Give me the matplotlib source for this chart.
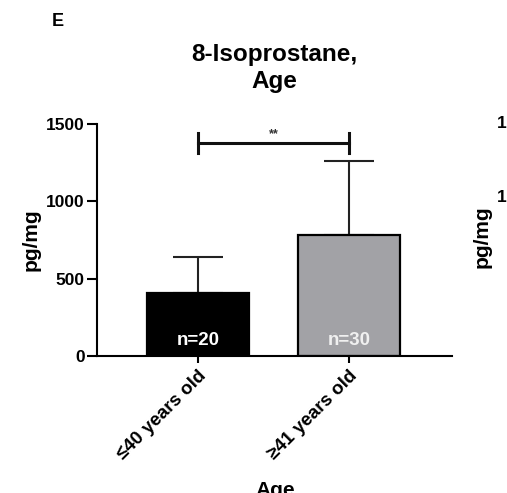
import matplotlib
matplotlib.use('Agg')
import matplotlib.pyplot as plt
import numpy as np

plt.rcParams['font.family'] = ['Liberation Sans', 'DejaVu Sans']
plt.rcParams['font.weight'] = 'bold'

# data
groups = ['\u226440 years old', '\u226541 years old']
means = [405, 782]
sd_up = [235, 478]
n_labels = ['n=20', 'n=30']
colors = ['#000000', '#a2a2a6']
sig_y = 1377
sig_text = '**'

fig = plt.figure(figsize=(5.07, 4.93), dpi=100)
ax = fig.add_axes([97/507., 1-356/493., 355/507., 232/493.])

x = np.arange(len(groups))
ax.bar(x, means, width=0.675, color=colors, edgecolor='black', linewidth=1.6, zorder=2)
ax.errorbar(x, means, yerr=[np.zeros(len(means)), sd_up], fmt='none',
            ecolor='#222222', elinewidth=1.5, capsize=18, capthick=1.5, zorder=1)

for xi, lab, c in zip(x, n_labels, ['white', '#f0f0f0']):
    ax.text(xi, 103, lab, ha='center', va='center', color=c,
            fontsize=13.5, fontweight='bold', zorder=3)

# significance bracket
ax.plot([x[0], x[1]], [sig_y, sig_y], color='#111111', lw=2.2, clip_on=False)
ax.plot([x[0], x[0]], [sig_y-65, sig_y+65], color='#111111', lw=2.2, clip_on=False)
ax.plot([x[1], x[1]], [sig_y-65, sig_y+65], color='#111111', lw=2.2, clip_on=False)
ax.text((x[0]+x[1])/2., sig_y+20, sig_text, ha='center', va='bottom',
        fontsize=9, color='#333333')

ax.set_xlim(-0.669, 1.682)
ax.set_ylim(0, 1500)
ax.set_yticks([0, 500, 1000, 1500])
ax.set_xticks(x)
ax.set_xticklabels(groups, rotation=45, ha='right', va='top',
                   rotation_mode='anchor', fontsize=13.5, fontweight='bold')
ax.tick_params(axis='y', labelsize=12.5, width=1.5, length=7, pad=2)
ax.tick_params(axis='x', width=1.5, length=5, pad=3)
for lab in ax.get_yticklabels():
    lab.set_fontweight('bold')
for s in ['top', 'right']:
    ax.spines[s].set_visible(False)
for s in ['left', 'bottom']:
    ax.spines[s].set_linewidth(1.5)
ax.set_ylabel('pg/mg', fontsize=15, fontweight='bold', labelpad=4)

fig.text(274/507., 1-68/493., '8-Isoprostane,\nAge', ha='center', va='center',
         fontsize=17.5, fontweight='bold', linespacing=1.25)
fig.text(52/507., 1-22/493., 'E', ha='left', va='center', fontsize=13, fontweight='bold')
fig.text(275/507., 1-481/493., 'Age', ha='center', va='top', fontsize=15, fontweight='bold')

# neighbouring panel, cut off at the right edge
fig.text(482/507., 1-237/493., 'pg/mg', rotation=90, ha='center', va='center',
         fontsize=15, fontweight='bold')
fig.text(497/507., 1-123/493., '1', ha='left', va='center', fontsize=12.5, fontweight='bold')
fig.text(497/507., 1-198/493., '1', ha='left', va='center', fontsize=12.5, fontweight='bold')

fig.savefig('out.png', dpi=100)
